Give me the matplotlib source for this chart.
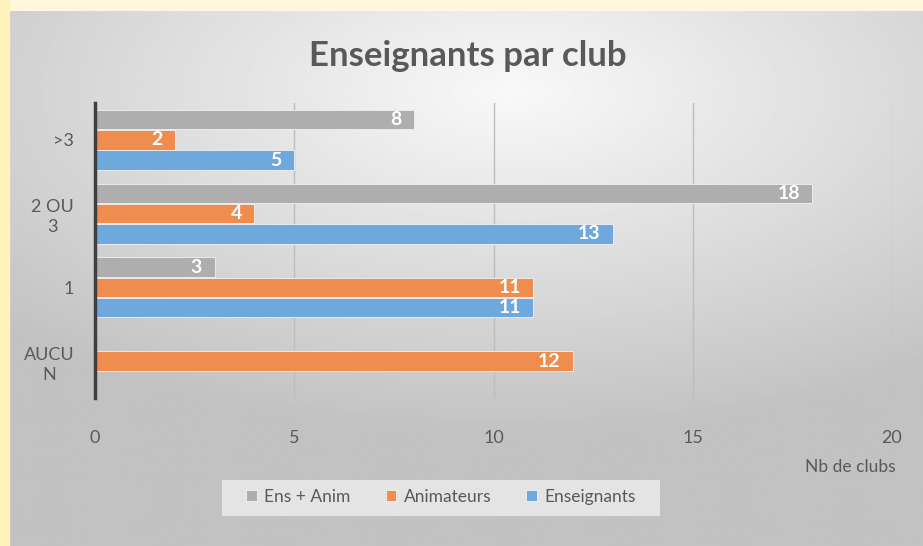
import numpy as np
import matplotlib.pyplot as plt
from matplotlib.patches import Rectangle

# categories bottom -> top, as the spreadsheet lists them
categories = ["AUCU\nN", "1", "2 OU\n3", ">3"]
enseignants = [np.nan, 11, 13, 5]
animateurs = [12, 11, 4, 2]
ens_anim = [np.nan, 3, 18, 8]

series = [
    ("Enseignants", enseignants, "#6fa8dc", -0.274),
    ("Animateurs", animateurs, "#ee8d4d", 0.0),
    ("Ens + Anim", ens_anim, "#aeaeae", 0.274),
]

plt.rcParams['font.family'] = ['Lato', 'DejaVu Sans']
text_col = "#595959"

fig = plt.figure(figsize=(9.23, 5.46), dpi=100)
fig.patch.set_facecolor("#fff8dc")

# radial grey gradient behind the chart
bg = fig.add_axes([0, 0, 1, 1], zorder=-10)
gx, gy = np.meshgrid(np.linspace(0, 1, 400), np.linspace(0, 1, 300))
r = np.sqrt(((gx - 0.55) / 0.9) ** 2 + ((gy - 0.85) / 0.75) ** 2)
shade = np.clip(0.975 - 0.25 * r, 0.76, 0.975)
bg.imshow(shade, cmap="gray", vmin=0, vmax=1, extent=[9 / 923, 1, 0, 1 - 11 / 546],
          origin="lower", aspect="auto", interpolation="bilinear")
bg.set_xlim(0, 1)
bg.set_ylim(0, 1)
bg.add_patch(Rectangle((0, 0), 9 / 923, 1, color="#fff3bd", zorder=5))
# legend backdrop
bg.add_patch(Rectangle((222 / 923, 1 - 516 / 546), 438 / 923, 36 / 546,
                       facecolor="#ebebeb", edgecolor="none", alpha=0.85, zorder=6))
bg.axis("off")

ax = fig.add_axes([95 / 923, 1 - 398 / 546, 797 / 923, 295 / 546])
ax.patch.set_alpha(0)

y = np.arange(len(categories))
for name, vals, col, off in series:
    bars = ax.barh(y + off, vals, height=0.264, color=col, edgecolor="#f2f2f2",
                   linewidth=0.6, label=name, zorder=3)
    labels = ["" if np.isnan(v) else f"{int(v)}" for v in vals]
    for t in ax.bar_label(bars, labels=labels, padding=-9, color="white",
                          fontsize=14, fontweight="bold"):
        t.set_ha("right")

ax.set_xlim(0, 20)
ax.set_ylim(-0.5, 3.5)
ax.set_xticks([0, 5, 10, 15, 20])
ax.set_yticks(y)
ax.set_yticklabels(categories)
for lab in ax.get_yticklabels():
    lab.set_multialignment("center")
    lab.set_linespacing(1.3)
ax.tick_params(axis="both", length=0, labelcolor=text_col, labelsize=13)
ax.tick_params(axis="x", pad=23)
ax.tick_params(axis="y", pad=15)
ax.grid(axis="x", color="#bdbdbd", linewidth=1, zorder=0)
for s in ["top", "right", "bottom"]:
    ax.spines[s].set_visible(False)
ax.spines["left"].set_color("#3f3f3f")
ax.spines["left"].set_linewidth(2.5)
ax.spines["left"].set_zorder(4)

fig.text(468 / 923, 1 - 56 / 546, "Enseignants par club", ha="center", va="center",
         fontsize=25, fontweight="bold", color=text_col)
fig.text(896 / 923, 1 - 467 / 546, "Nb de clubs", ha="right", va="center",
         fontsize=12.5, color=text_col)

handles, labs = ax.get_legend_handles_labels()
leg = fig.legend(handles[::-1], labs[::-1], loc="center", ncol=3,
                 bbox_to_anchor=(441 / 923, 1 - 497 / 546), frameon=False,
                 fontsize=12.5, handlelength=0.6, handleheight=0.6,
                 handletextpad=0.45, columnspacing=2.0, borderpad=0.55,
                 borderaxespad=0, labelcolor=text_col)

fig.savefig("out.png", dpi=100, facecolor=fig.get_facecolor())
